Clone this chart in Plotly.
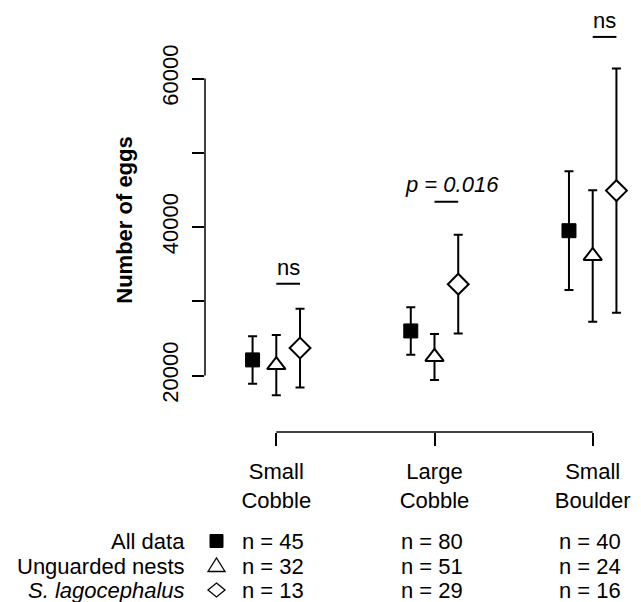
import plotly.graph_objects as go

# ---------------- data ----------------
categories = ["Small<br>Cobble", "Large<br>Cobble", "Small<br>Boulder"]
series_names = ["All data", "Unguarded nests", "<i>S. lagocephalus</i>"]
all_mean = [22100, 26000, 39500]
all_err = [3200, 3200, 8000]
ung_mean = [21400, 22500, 36100]
ung_err = [4050, 3100, 8850]
sla_mean = [23700, 32300, 44900]
sla_err = [5300, 6650, 16450]
n_all = [45, 80, 40]
n_ung = [32, 51, 24]
n_sla = [13, 29, 16]
sig_labels = ["ns", "<i>p = 0.016</i>", "ns"]
sig_y = [32360, 43400, 65600]
ytick_vals = [20000, 30000, 40000, 50000, 60000]
ytick_text = ["20000", "", "40000", "", "60000"]

# ---------------- layout helpers ----------------
# page body has an 8px margin, so the figure is drawn 8px in from the corner
OFF = 8
W, H = 641 - OFF, 602 - OFF
PLOT_L, PLOT_R, PLOT_T, PLOT_B = 205, 641, 8, 432   # page pixel coords
L, T = PLOT_L - OFF, PLOT_T - OFF
R, B = W - (PLOT_R - OFF), H - (PLOT_B - OFF)
PW, PH = PLOT_R - PLOT_L, PLOT_B - PLOT_T


def px_x(p):
    return (p - PLOT_L) / PW


def px_y(p):
    return (PLOT_B - p) / PH


FONT = "Liberation Sans, Arial, Helvetica, sans-serif"
FS = 22
grp = [1, 2, 3]
off = 0.15

fig = go.Figure()

err_style = dict(type="data", color="black", thickness=2, width=4.5)

fig.add_trace(go.Scatter(
    x=[g - off for g in grp], y=all_mean, mode="markers",
    marker=dict(symbol="square", size=14, color="black",
                line=dict(color="black", width=1)),
    error_y=dict(array=all_err, **err_style), cliponaxis=False,
    showlegend=False))
fig.add_trace(go.Scatter(
    x=grp, y=ung_mean, mode="markers",
    marker=dict(symbol="triangle-up", size=16, color="white",
                line=dict(color="black", width=2)),
    error_y=dict(array=ung_err, **err_style), cliponaxis=False,
    showlegend=False))
fig.add_trace(go.Scatter(
    x=[g + off for g in grp], y=sla_mean, mode="markers",
    marker=dict(symbol="diamond", size=16, color="white",
                line=dict(color="black", width=2)),
    error_y=dict(array=sla_err, **err_style), cliponaxis=False,
    showlegend=False))

shapes = []
# y axis line (20000-60000)
shapes.append(dict(type="line", xref="paper", yref="y", x0=0, x1=0,
                   y0=ytick_vals[0], y1=ytick_vals[-1],
                   line=dict(color="black", width=1.5)))
# x axis bracket
shapes.append(dict(type="line", xref="x", yref="paper", x0=grp[0], x1=grp[-1],
                   y0=0, y1=0, line=dict(color="black", width=1.5)))

annotations = []
# significance marks
for g, lab, yv in zip(grp, sig_labels, sig_y):
    shapes.append(dict(type="line", xref="x", yref="y", x0=g, x1=g + off,
                       y0=yv, y1=yv, line=dict(color="black", width=2)))
    annotations.append(dict(x=g + off / 2, y=yv, xref="x", yref="y",
                            text=lab, showarrow=False, yanchor="middle",
                            xshift=6 if "p" in lab else 0,
                            yshift=17 if "p" in lab else 16,
                            font=dict(family=FONT, size=FS, color="black")))

# table rows
rows_y = [541, 566, 590]
n_lists = [n_all, n_ung, n_sla]
for name, ry, ns in zip(series_names, rows_y, n_lists):
    annotations.append(dict(x=px_x(187), y=px_y(ry), xref="paper", yref="paper",
                            text=name, showarrow=False, xanchor="right",
                            yanchor="middle",
                            font=dict(family=FONT, size=FS, color="black")))
    for g, n in zip(grp, ns):
        annotations.append(dict(x=g, y=px_y(ry), xref="x", yref="paper",
                                text=f"n = {n}", showarrow=False,
                                xanchor="center", yanchor="middle", xshift=-3,
                                font=dict(family=FONT, size=FS, color="black")))

# table symbols
mx = px_x(216.5)
sq_y, tr_y, di_y = px_y(rows_y[0]), px_y(rows_y[1]), px_y(rows_y[2])
shapes.append(dict(type="rect", xref="paper", yref="paper",
                   xsizemode="pixel", ysizemode="pixel",
                   xanchor=mx, yanchor=sq_y, x0=-6.5, x1=6.5, y0=-6.5, y1=6.5,
                   fillcolor="black", line=dict(color="black", width=1)))
shapes.append(dict(type="path", xref="paper", yref="paper",
                   xsizemode="pixel", ysizemode="pixel",
                   xanchor=mx, yanchor=tr_y,
                   path="M -8.5 -5.5 L 8.5 -5.5 L 0 8 Z",
                   line=dict(color="black", width=1.3)))
shapes.append(dict(type="path", xref="paper", yref="paper",
                   xsizemode="pixel", ysizemode="pixel",
                   xanchor=mx, yanchor=di_y,
                   path="M 0 7 L 8.5 0 L 0 -7 L -8.5 0 Z",
                   line=dict(color="black", width=1.3)))

fig.update_layout(
    width=W, height=H,
    margin=dict(l=L, r=R, t=T, b=B, pad=0),
    plot_bgcolor="white", paper_bgcolor="white",
    font=dict(family=FONT, size=FS, color="black"),
    shapes=shapes, annotations=annotations,
    showlegend=False,
    xaxis=dict(range=[0.5493, 3.3053], tickvals=grp, ticktext=categories,
               ticks="outside", ticklen=13, tickwidth=1.5, tickcolor="black",
               showline=False, showgrid=False, zeroline=False,
               tickfont=dict(family=FONT, size=FS, color="black"),
               ticklabelstandoff=7),
    yaxis=dict(range=[12391, 69495], tickvals=ytick_vals, ticktext=ytick_text,
               tickangle=-90, ticks="outside", ticklen=12, tickwidth=1.5,
               tickcolor="black", showline=False, showgrid=False,
               zeroline=False,
               tickfont=dict(family=FONT, size=FS, color="black"),
               ticklabelstandoff=5,
               title=dict(text="<b>Number of eggs</b>", standoff=19,
                          font=dict(family=FONT, size=22, color="black"))),
)

fig.write_html("out.html")
